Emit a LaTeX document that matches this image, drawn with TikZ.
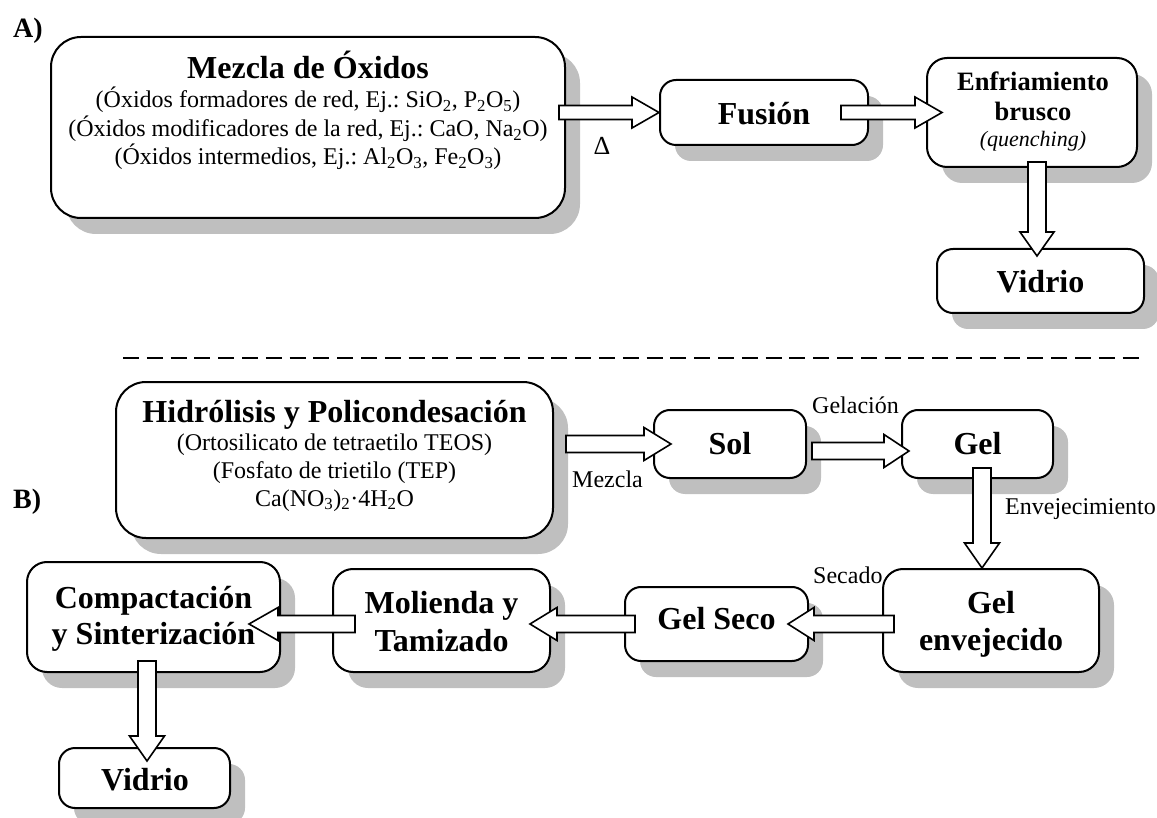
\documentclass[tikz,border=0pt]{standalone}
\usepackage{fontspec}
\setmainfont{Liberation Serif}
\usetikzlibrary{calc,shadows}
\frenchspacing
\newcommand{\fbig}{\fontsize{32}{38}\selectfont\bfseries}
\newcommand{\fmid}{\fontsize{26.5}{31}\selectfont\bfseries}
\newcommand{\fsmall}{\fontsize{24}{28}\selectfont}
\newcommand{\fital}{\fontsize{22}{26}\selectfont\itshape}
\newcommand{\fpanel}{\fontsize{28}{32}\selectfont\bfseries}
% block arrows: #1 start, #2 tip, #3 shaft half width, #4 head half width, #5 head length
\newcommand{\barR}[5]{\draw[blockarrow] ($(#1)+(0,-#3)$) -- ($(#2)+(-#5,-#3)$) -- ($(#2)+(-#5,-#4)$) -- (#2) -- ($(#2)+(-#5,#4)$) -- ($(#2)+(-#5,#3)$) -- ($(#1)+(0,#3)$) -- cycle;}
\newcommand{\barL}[5]{\draw[blockarrow] ($(#1)+(0,-#3)$) -- ($(#2)+(#5,-#3)$) -- ($(#2)+(#5,-#4)$) -- (#2) -- ($(#2)+(#5,#4)$) -- ($(#2)+(#5,#3)$) -- ($(#1)+(0,#3)$) -- cycle;}
\newcommand{\barD}[5]{\draw[blockarrow] ($(#1)+(-#3,0)$) -- ($(#2)+(-#3,-#5)$) -- ($(#2)+(-#4,-#5)$) -- (#2) -- ($(#2)+(#4,-#5)$) -- ($(#2)+(#3,-#5)$) -- ($(#1)+(#3,0)$) -- cycle;}
\tikzset{
  box/.style={draw, line width=2pt, fill=white, inner sep=0pt, rounded corners=16pt,
    drop shadow={shadow xshift=15pt, shadow yshift=-16pt, fill=black!25, opacity=1}},
  bigbox/.style={box, rounded corners=30pt},
  blockarrow/.style={draw, line width=1.6pt, fill=white, line join=miter},
  lbl/.style={anchor=base, inner sep=0pt, font=\fbig},
  mid/.style={anchor=base, inner sep=0pt, font=\fmid},
  sml/.style={anchor=base, inner sep=0pt, font=\fsmall},
  smlw/.style={anchor=base west, inner sep=0pt, font=\fsmall},
  ital/.style={anchor=base, inner sep=0pt, font=\fital},
  panel/.style={anchor=base west, inner sep=0pt, font=\fpanel},
  sep/.style={draw, line width=2.5pt, dash pattern=on 16pt off 7.8pt}
}
\begin{document}
\begin{tikzpicture}[x=1pt,y=-1pt]
\useasboundingbox (0,0) rectangle (1157,818);

% ---------- boxes ----------
\node[bigbox, minimum width=514pt, minimum height=181pt] (mezcla) at (308,127.5) {};
\node[box, minimum width=208pt, minimum height=65pt] (fusion) at (764,112.5) {};
\node[box, minimum width=210pt, minimum height=109pt, rounded corners=20pt] (enfr) at (1032,112.5) {};
\node[box, minimum width=207pt, minimum height=64pt] (vidrioA) at (1040.5,281) {};

\node[bigbox, minimum width=437pt, minimum height=156pt] (hidro) at (334.5,460) {};
\node[box, minimum width=152pt, minimum height=68pt] (sol) at (730,444) {};
\node[box, minimum width=151pt, minimum height=68pt] (gel) at (977.5,444) {};
\node[box, minimum width=216pt, minimum height=103pt, rounded corners=20pt] (gelenv) at (991,620.5) {};
\node[box, minimum width=183pt, minimum height=74pt] (gelseco) at (716.5,624) {};
\node[box, minimum width=217pt, minimum height=103pt, rounded corners=20pt] (molienda) at (441.5,620.5) {};
\node[box, minimum width=253pt, minimum height=110pt, rounded corners=20pt] (compact) at (153.5,617) {};
\node[box, minimum width=171pt, minimum height=60pt] (vidrioB) at (144.5,778) {};

% ---------- separator ----------
\coordinate (d1) at (123,358);
\coordinate (d2) at (1145,358);
\draw[sep] (d1) -- (d2);

% ---------- arrows ----------
\coordinate (a1s) at ($(mezcla.east |- fusion.west)+(-7,0)$);
\coordinate (a1t) at (fusion.west);
\barR{a1s}{a1t}{7}{15.5}{27}
\coordinate (a2s) at ($(fusion.east)+(-28,0)$);
\coordinate (a2t) at ($(enfr.west |- fusion.east)+(16,0)$);
\barR{a2s}{a2t}{7}{15.5}{27}
\coordinate (a3s) at ($(enfr.south)+(5,-6)$);
\coordinate (a3t) at ($(a3s |- vidrioA.north)+(0,8)$);
\barD{a3s}{a3t}{9}{17}{24}

\coordinate (b1s) at ($(hidro.east |- sol.west)+(12,0)$);
\coordinate (b1t) at ($(sol.west)+(18,0)$);
\barR{b1s}{b1t}{8.5}{16.5}{27}
\coordinate (b2s) at ($(sol.east)+(5,7)$);
\coordinate (b2t) at ($(gel.west)+(8,7)$);
\barR{b2s}{b2t}{8.5}{16.5}{25}
\coordinate (b3s) at ($(gel.south)+(4.5,-11)$);
\coordinate (b3t) at (b3s |- gelenv.north);
\barD{b3s}{b3t}{9}{17.5}{25}
\coordinate (b4s) at ($(gelenv.west |- gelseco.east)+(12,0)$);
\coordinate (b4t) at ($(gelseco.east)+(-21,0)$);
\barL{b4s}{b4t}{8.5}{16.5}{26}
\coordinate (b5s) at ($(gelseco.west)+(11,0)$);
\coordinate (b5t) at ($(molienda.east |- gelseco.west)+(-21,0)$);
\barL{b5s}{b5t}{8.5}{16.5}{27}
\coordinate (b6s) at ($(molienda.west |- gelseco.west)+(23,0)$);
\coordinate (b6t) at ($(compact.east |- gelseco.west)+(-32,0)$);
\barL{b6s}{b6t}{8.5}{16.5}{29}
\coordinate (b7s) at ($(compact.south)+(-6.5,-12)$);
\coordinate (b7t) at ($(b7s |- vidrioB.north)+(0,14)$);
\barD{b7s}{b7t}{9}{17.5}{25}

% ---------- texts ----------
\node[panel] (pA) at (13,38) {A)};
\node[panel] (pB) at (13,508) {B)};

\node[lbl] (m0) at (308,79) {Mezcla de Óxidos};
\node[sml] (m1) at (308,108) {(Óxidos formadores de red, Ej.: SiO\textsubscript{2}, P\textsubscript{2}O\textsubscript{5})};
\node[sml] (m2) at (308,137) {(Óxidos modificadores de la red, Ej.: CaO, Na\textsubscript{2}O)};
\node[sml] (m3) at (308,165) {(Óxidos intermedios, Ej.: Al\textsubscript{2}O\textsubscript{3}, Fe\textsubscript{2}O\textsubscript{3})};
\node[anchor=base, inner sep=0pt, font=\fontsize{26}{30}\selectfont] (delta) at (602,155) {Δ};

\node[lbl] (tf) at (764,125) {Fusión};
\node[mid] (te1) at (1033,91) {Enfriamiento};
\node[mid] (te2) at (1033,121) {brusco};
\node[ital] (te3) at (1033,147) {(quenching)};
\node[lbl] (tva) at (1040.5,293) {Vidrio};

\node[lbl] (h0) at (334.5,422) {Hidrólisis y Policondesación};
\node[sml] (h1) at (334.5,450) {(Ortosilicato de tetraetilo TEOS)};
\node[sml] (h2) at (334.5,478) {(Fosfato de trietilo (TEP)};
\node[sml] (h3) at (334.5,506) {Ca(NO\textsubscript{3})\textsubscript{2}·4H\textsubscript{2}O};

\node[smlw] (lmez) at (572,487) {Mezcla};
\node[lbl] (tsol) at (730,454) {Sol};
\node[smlw] (lgelac) at (812,413) {Gelación};
\node[lbl] (tgel) at (977.5,454) {Gel};
\node[smlw] (lenv) at (1005,514) {Envejecimiento};
\node[lbl] (tge1) at (991,613) {Gel};
\node[lbl] (tge2) at (991,650) {envejecido};
\node[smlw] (lsec) at (813,583) {Secado};
\node[lbl] (tgs) at (716.5,629) {Gel Seco};
\node[lbl] (tm1) at (441.5,613) {Molienda y};
\node[lbl] (tm2) at (441.5,651) {Tamizado};
\node[lbl] (tc1) at (153.5,608) {Compactación};
\node[lbl] (tc2) at (153.5,644) {y Sinterización};
\node[lbl] (tvb) at (145,790) {Vidrio};
\end{tikzpicture}
\end{document}
